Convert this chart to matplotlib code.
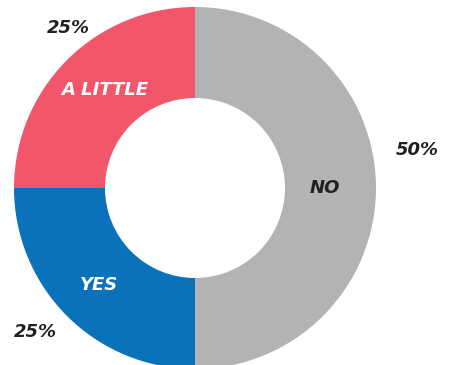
import matplotlib.pyplot as plt

labels = ['NO', 'YES', 'A LITTLE']
shares = [50, 25, 25]
colors = ['#B1B3B4', '#0A72BA', '#F2566B']
label_colors = ['#231F20', 'white', 'white']

fig = plt.figure(figsize=(4.51, 3.65), dpi=100)
ax = fig.add_axes([0, 0, 1, 1])

cx, cy, r = 195, 177, 181
wedges, _ = ax.pie(shares, colors=colors, startangle=90, counterclock=False,
                   center=(cx, cy), radius=r,
                   wedgeprops=dict(width=r - 90, linewidth=0))

font = dict(family='DejaVu Sans', style='italic', weight='bold', fontsize=13)

# slice names sit in the ring
name_pos = [(325, 365 - 188), (99, 365 - 285), (105, 365 - 90)]
for name, (x, y), c in zip(labels, name_pos, label_colors):
    ax.text(x, y, name, ha='center', va='center', color=c, **font)

# percentages outside the ring
pct_pos = [(417, 365 - 150), (35, 365 - 332), (68, 365 - 28)]
for v, (x, y) in zip(shares, pct_pos):
    ax.text(x, y, f'{v}%', ha='center', va='center', color='#231F20', **font)

ax.set_xlim(0, 451)
ax.set_ylim(0, 365)
ax.set_aspect('equal')
ax.axis('off')
fig.savefig('out.png', dpi=100)
